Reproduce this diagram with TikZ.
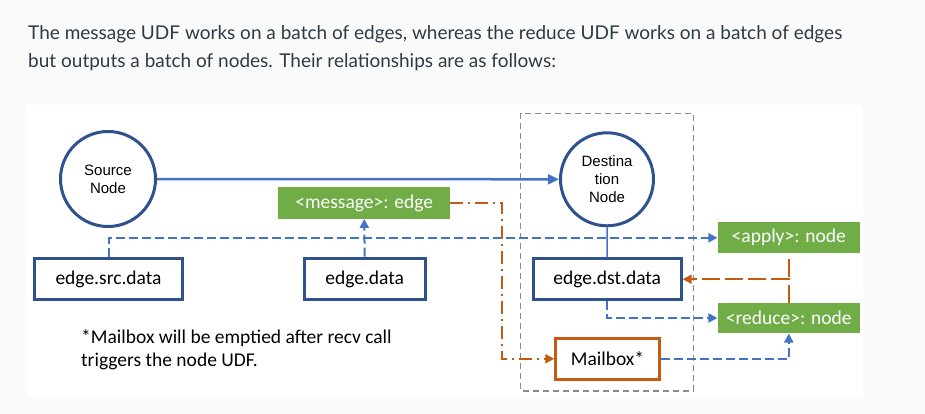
\documentclass[tikz,border=0pt]{standalone}
\usepackage{fontspec}
\setmainfont{Carlito}
\newfontfamily\arialfont{Liberation Sans}
\newfontfamily\latofont{Lato}
\usepackage{tikz}
\usetikzlibrary{arrows.meta}

\definecolor{nodeblue}{HTML}{2F528F}
\definecolor{linkblue}{HTML}{4472C4}
\definecolor{udfgreen}{HTML}{70AD47}
\definecolor{mailorange}{HTML}{C55A11}
\definecolor{pagegray}{HTML}{FAFAFA}
\definecolor{textgray}{HTML}{2D3B45}
\definecolor{boxgray}{HTML}{8C8C8C}

\begin{document}
\begin{tikzpicture}[x=1pt, y=-1pt,
  graphnode/.style={circle, draw=nodeblue, line width=3pt, minimum size=95pt, inner sep=0pt, align=center, font=\arialfont\fontsize{15}{18}\selectfont},
  databox/.style={draw=nodeblue, line width=3pt, inner sep=0pt, minimum height=41.6pt, font=\fontsize{19.5}{23}\selectfont},
  udfbox/.style={fill=udfgreen, text=white, inner sep=0pt, minimum width=142.3pt, minimum height=31pt, font=\fontsize{19.5}{23}\selectfont},
  bluedash/.style={linkblue, line width=2pt, dash pattern=on 9pt off 4pt},
  orangedash/.style={mailorange, line width=2pt, dash pattern=on 18pt off 5pt},
  orangedot/.style={mailorange, line width=2pt, dash pattern=on 13pt off 5pt on 2pt off 5pt},
  tip/.style={-{Triangle[length=9pt,width=9pt]}}
]
\useasboundingbox (0,0) rectangle (925,414);
%the page
\fill [pagegray] (0,0) rectangle (925,414);
\fill [white] (27,105) rectangle (863,397);

\node [anchor=base west, align=left, inner sep=0pt, text=textgray, font=\latofont\fontsize{19}{27.7}\selectfont] (title) at (28,67.7)
  {The message UDF works on a batch of edges, whereas the reduce UDF works on a batch of edges\\but outputs a batch of nodes. Their relationships are as follows:};

%the destination group
\draw [boxgray, line width=1.5pt, dash pattern=on 6pt off 4pt] (520.7,113.3) rectangle (693.3,391);

%the nodes
\node [graphnode] (src) at (108,179) {Source\\Node};
\node [graphnode, minimum size=93pt] (dst) at (607,179.3) {Destina\\tion\\Node};

%the data
\node [databox, minimum width=148.6pt] (srcdata) at (108.5,279) {edge.src.data};
\node [databox, minimum width=121pt] (edata) at (364.7,279) {edge.data};
\node [databox, minimum width=148pt, minimum height=40.7pt] (dstdata) at (607.2,279.2) {edge.dst.data};
\node [databox, draw=mailorange, minimum width=103.4pt, minimum height=41.3pt] (mailbox) at (607.5,358.8) {Mailbox*};

%the UDFs
\node [udfbox, minimum width=171.7pt, minimum height=31.4pt] (msg) at (364.2,203) {<message>: edge};
\node [udfbox] (apply) at (788.8,237.8) {<apply>: node};
\node [udfbox, minimum height=30.6pt] (reduce) at (788.8,318) {<reduce>: node};

\node [anchor=base west, align=left, inner sep=0pt, font=\fontsize{19.5}{23.4}\selectfont] (note) at (81,366.7)
  {*Mailbox will be emptied after recv call\\triggers the node UDF.};

%the connectors
\draw [linkblue, line width=2.5pt, -{Triangle[length=11pt,width=10pt]}] (src.east) -- (dst.west);
\draw [linkblue, line width=1.5pt] (dst.south) -- (dstdata.north);
\draw [bluedash, tip] (srcdata.north) |- (apply.west);
\draw [bluedash, tip] (edata.north) -- (msg.south);
\draw [bluedash, tip] (dstdata.south) |- (reduce.west);
\draw [bluedash, tip] (mailbox.east) -| (reduce.south);

\coordinate (msgbend) at (502,203);
\draw [orangedot, tip] (msg.east) -- (msgbend) |- (mailbox.west);

\coordinate (join) at (apply.south |- dstdata.east);
\draw [orangedash, dash phase=18pt] (apply.south) -- (join);
\draw [orangedash, tip] (reduce.north) |- (dstdata.east);
\end{tikzpicture}
\end{document}
